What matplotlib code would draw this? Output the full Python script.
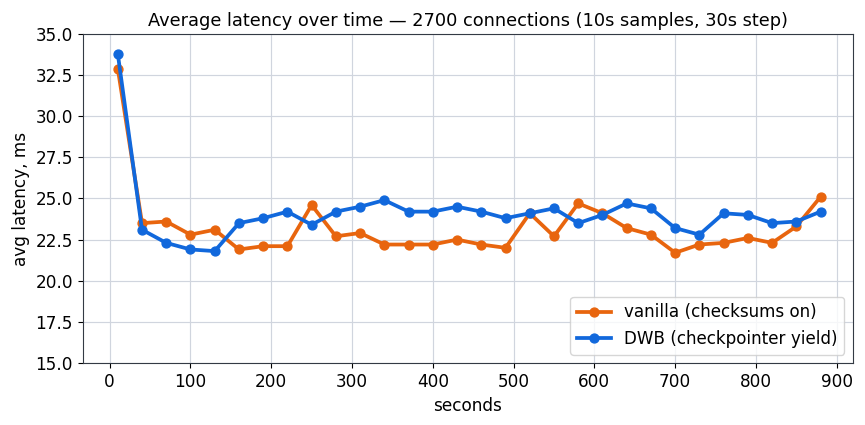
import matplotlib
matplotlib.use("Agg")
import matplotlib.pyplot as plt

plt.rcParams['font.family'] = ['DejaVu Sans']

seconds = [10, 40, 70, 100, 130, 160, 190, 220, 250, 280, 310, 340, 370, 400, 430,
           460, 490, 520, 550, 580, 610, 640, 670, 700, 730, 760, 790, 820, 850, 880]
vanilla = [32.9, 23.5, 23.6, 22.8, 23.1, 21.9, 22.1, 22.1, 24.6, 22.7, 22.9, 22.2, 22.2, 22.2, 22.5,
           22.2, 22.0, 24.1, 22.7, 24.7, 24.1, 23.2, 22.8, 21.7, 22.2, 22.3, 22.6, 22.3, 23.3, 25.1]
dwb = [33.8, 23.1, 22.3, 21.9, 21.8, 23.5, 23.8, 24.2, 23.4, 24.2, 24.5, 24.9, 24.2, 24.2, 24.5,
       24.2, 23.8, 24.1, 24.4, 23.5, 24.0, 24.7, 24.4, 23.2, 22.8, 24.1, 24.0, 23.5, 23.6, 24.2]

fig, ax = plt.subplots(figsize=(8.65, 4.25), dpi=100)
ax.plot(seconds, vanilla, color="#e8650e", lw=2.7, marker="o", ms=6.4, label="vanilla (checksums on)")
ax.plot(seconds, dwb, color="#1168dc", lw=2.7, marker="o", ms=6.4, label="DWB (checkpointer yield)")
ax.set_ylim(15, 35)
ax.set_xlim(-33, 920)
ax.set_xticks(range(0, 901, 100))
ax.set_yticks([15 + 2.5 * i for i in range(9)])
ax.set_yticklabels([f"{15 + 2.5 * i:.1f}" for i in range(9)])
ax.grid(True, color="#d0d5de", lw=0.85)
ax.set_axisbelow(True)
ax.set_xlabel("seconds", fontsize=12.2)
ax.set_ylabel("avg latency, ms", fontsize=12.2)
ax.set_title("Average latency over time — 2700 connections (10s samples, 30s step)", fontsize=12.8)
ax.tick_params(labelsize=12.2, length=3.8)
for s in ax.spines.values():
    s.set_color("#333a44")
ax.legend(loc="lower right", fontsize=12.1)
fig.subplots_adjust(left=0.096, right=0.986, top=0.92, bottom=0.146)
fig.savefig("out.png", dpi=100)
